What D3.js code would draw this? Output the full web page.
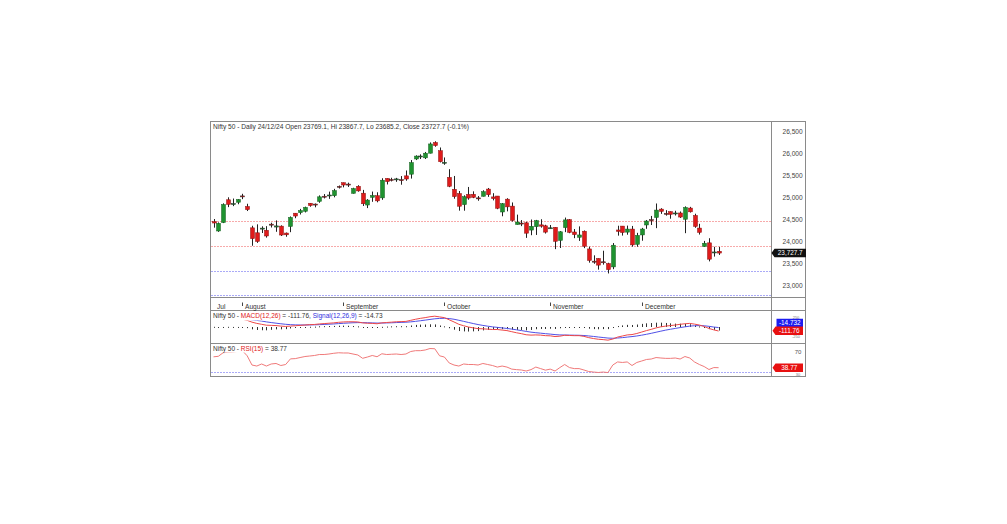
<!DOCTYPE html>
<html><head><meta charset="utf-8">
<script src="https://cdn.jsdelivr.net/npm/d3@7/dist/d3.min.js"></script>
<style>body{margin:0;background:#fff}svg{display:block}text{font-family:"Liberation Sans",Arial,sans-serif}</style>
</head><body><svg id="c" width="1007" height="524"></svg>
<script>
// ---------- DATA ----------
const opens  = [24444,24231,24424,24943,24840,24887,25031,24790,24303,24190,24290,24248,24387,24321,24342,24184,24334,24637,24649,24681,24864,24845,24906,25024,25031,25035,25249,25333,25301,25089,25251,25093,24823,24999,25035,24986,25430,25406,25417,25402,25488,25526,25873,25921,25899,26005,26249,26062,25789,25453,25182,25085,24832,25066,25068,24986,25023,25187,25008,25028,24664,24957,24798,24379,24412,24418,24252,24328,24371,24349,24302,24316,24016,24308,24490,24208,24088,24226,23822,23543,23605,23529,23488,23412,24254,24343,24205,24275,23927,24141,24368,24489,24539,24730,24633,24673,24621,24642,24499,24754,24585,24298,23878,23961,23738,23769.1];
const highs  = [24504,24427,24862,24999,24971,24957,25079,24852,24350,24383,24338,24341,24420,24473,24360,24196,24563,24638,24735,24787,24868,24858,25043,25073,25129,25192,25269,25334,25333,25217,25275,25168,24958,25130,25114,25434,25431,25445,25442,25483,25611,25849,25957,25979,26033,26251,26277,26135,25908,25640,25486,25143,25045,25235,25135,25028,25160,25212,25093,25029,24869,24978,24882,24604,24480,24441,24493,24484,24499,24373,24368,24316,24229,24537,24503,24276,24336,24243,23874,23676,23606,23781,23507,23956,24351,24343,24354,24346,24189,24302,24482,24574,24858,24751,24706,24678,24692,24676,24793,24781,24625,24395,24005,24066,23870,23867.7];
const lows   = [24307,24211,24411,24775,24798,24841,24957,24686,23894,23960,24185,24080,24311,24213,24117,24100,24204,24522,24607,24654,24784,24771,24874,24973,24964,24999,25199,25226,25235,25084,25127,24801,24753,24897,24885,24942,25292,25361,25352,25286,25377,25426,25848,25872,25872,25999,26152,25794,25740,25230,24967,24695,24694,24944,24980,24920,25018,25009,24929,24728,24567,24679,24446,24378,24342,24074,24135,24141,24307,24173,24281,23817,23843,24205,24180,24067,24005,23840,23509,23484,23350,23464,23263,23360,24125,24126,24146,23874,23873,24009,24281,24367,24296,24621,24581,24511,24584,24528,24181,24651,24304,24150,23870,23538,23647,23685.2];
const closes = [24413,24406,24835,24837,24857,24951,25011,24718,24056,23993,24297,24117,24368,24347,24139,24144,24541,24572,24698,24770,24811,24823,25010,25017,25052,25152,25235,25279,25280,25199,25145,24852,24936,25041,24918,25389,25357,25384,25419,25378,25416,25791,25939,25941,26005,26216,26179,25811,25797,25251,25015,24796,25013,24982,24998,24964,25128,25058,24971,24750,24854,24781,24472,24436,24400,24181,24339,24467,24341,24205,24304,23996,24213,24484,24199,24148,24141,23884,23559,23533,23453,23518,23350,23907,24222,24195,24275,23914,24131,24276,24458,24468,24708,24678,24620,24610,24642,24549,24768,24668,24336,24199,23952,23588,23753,23727.7];

const monthLabels = ["Jul","August","September","October","November","December"];
const monthStart  = [0,6,27,48,70,89];
const priceTicks  = [23000,23500,24000,24500,25000,25500,26000,26500];
const redLevels   = [24466,23889];
const blueLevels  = [23326,22771];

const macd   = [230,215,225,230,228,228,215,185,135,100,75,50,45,40,25,15,25,35,45,55,65,70,85,95,105,115,130,140,145,145,140,115,105,100,90,115,125,135,145,150,155,185,215,240,260,285,300,280,260,200,140,75,35,0,-25,-45,-50,-60,-70,-70,-85,-100,-130,-160,-185,-215,-225,-220,-225,-240,-245,-265,-255,-230,-235,-240,-240,-260,-295,-320,-340,-350,-365,-335,-280,-250,-220,-210,-180,-140,-100,-65,-25,5,25,40,55,75,90,100,80,55,15,-40,-80,-111.76];
const signal = [225,224,224,225,226,226,224,216,200,183,165,142,123,106,90,75,65,59,56,56,58,60,65,71,78,85,94,103,111,118,122,121,118,114,109,110,113,117,123,128,133,143,157,174,191,210,228,238,242,234,215,187,157,126,96,68,44,23,4,-10,-25,-40,-58,-78,-99,-122,-143,-158,-171,-185,-197,-211,-220,-222,-225,-228,-230,-236,-248,-262,-278,-292,-307,-313,-306,-295,-280,-266,-249,-227,-202,-175,-145,-115,-87,-62,-39,-16,5,24,35,39,34,19,-1,-14.73];
const hist   = [5,-9,1,5,2,2,-9,-31,-65,-83,-90,-92,-78,-66,-65,-60,-40,-24,-11,-1,7,10,20,24,27,30,36,37,34,27,18,-6,-13,-14,-19,5,12,18,22,22,22,42,58,66,69,75,72,42,18,-34,-75,-112,-122,-126,-121,-113,-94,-83,-74,-60,-60,-60,-72,-82,-86,-93,-82,-62,-54,-55,-48,-54,-35,-8,-10,-12,-10,-24,-47,-58,-62,-58,-58,-22,26,45,60,56,69,87,102,110,120,120,112,102,94,91,85,76,45,16,-19,-59,-79,-97];
const macdTicks = [250,-250];

const rsi = [60,61,68,69,69.5,70.5,72,62,44,42,46,42,46,47,43,45,56,56.5,58.6,60.6,61.6,62.6,64.5,64.5,65.5,66.9,67.9,67.5,67.5,65.5,63.6,57.1,59.6,62.6,60.2,66,64.5,65,65.5,64.5,65.5,70.4,72,72,73.3,76.2,75.8,62,59.6,48,44,42,46,45,45,44,47,45,43,40,42,40,36,35,34.3,32.3,35,40,37,34,36,32.3,39,45,39,37,37,34.3,31.3,30.3,29.4,30.3,29.2,44,50,49,50,43,49,51.8,54.8,55.7,58.6,57.7,57,57,57.7,55.7,60.6,57.7,49.9,45,41,35.2,39,38.77];
const rsiTicks = [70,30];

// ---------- LAYOUT ----------
const svg = d3.select("#c");
const L = 210.5, R = 805.5, AX = 771.5;
const T = 121.5, P1 = 297.5, P2 = 310.5, P3 = 343.5, B = 376.5;
const n = closes.length;
const x = d3.scaleLinear().domain([0, n-1]).range([213.5, 718.6]);
const y = d3.scaleLinear().domain([22726, 26739]).range([297, 121]);
const ym = d3.scaleLinear().domain([-444, 472]).range([343, 310]);
const yr = d3.scaleLinear().domain([20.6, 87]).range([377, 343]);
const RED = "#df1b1b", GREEN = "#1f9330";

// frame
const g = svg.append("g");
g.append("rect").attr("x",L).attr("y",T).attr("width",R-L).attr("height",B-T).attr("fill","none").attr("stroke","#8a8a8a");
[P1,P2,P3].forEach(v=>g.append("line").attr("x1",L).attr("x2",R).attr("y1",v).attr("y2",v).attr("stroke","#8a8a8a"));
g.append("line").attr("x1",AX).attr("x2",AX).attr("y1",T).attr("y2",B).attr("stroke","#8a8a8a");

// level lines
redLevels.forEach(v=>g.append("line").attr("x1",L+1).attr("x2",AX).attr("y1",Math.round(y(v))+0.5).attr("y2",Math.round(y(v))+0.5)
  .attr("stroke","#ee5555").attr("stroke-dasharray","1,2"));
blueLevels.forEach(v=>g.append("line").attr("x1",L+1).attr("x2",AX).attr("y1",Math.round(y(v))+0.5).attr("y2",Math.round(y(v))+0.5)
  .attr("stroke","#5555ee").attr("stroke-dasharray","1,2"));

// candles
const idx = d3.range(n);
const cg = svg.append("g");
cg.selectAll("line.w").data(idx).join("line")
  .attr("x1",i=>Math.round(x(i))+0.5).attr("x2",i=>Math.round(x(i))+0.5)
  .attr("y1",i=>y(highs[i])).attr("y2",i=>y(lows[i]))
  .attr("stroke","#222").attr("stroke-width",1);
cg.selectAll("rect.b").data(idx).join("rect")
  .attr("x",i=>Math.round(x(i))-1.5).attr("width",4)
  .attr("y",i=>y(Math.max(opens[i],closes[i])))
  .attr("height",i=>Math.max(1,Math.abs(y(opens[i])-y(closes[i]))))
  .attr("fill",i=>closes[i]>=opens[i]?GREEN:RED)
  .attr("stroke",i=>Math.abs(y(opens[i])-y(closes[i]))<1.2?"#222":(closes[i]>=opens[i]?"#165f20":"#8a1010"))
  .attr("stroke-width",0.5);

// price axis
const ax = d3.axisRight(y).tickValues(priceTicks).tickSize(0).tickPadding(11).tickFormat(d3.format(","));
const axg = svg.append("g").attr("transform",`translate(${AX},0)`).call(ax);
axg.select(".domain").remove();
axg.selectAll("text").attr("font-size",6.6).attr("fill","#444").attr("font-family","Liberation Sans, Arial, sans-serif");

// title
svg.append("text").attr("x",213).attr("y",129).attr("font-size",6.6).attr("fill","#333")
  .text("Nifty 50 - Daily 24/12/24 Open 23769.1, Hi 23867.7, Lo 23685.2, Close 23727.7 (-0.1%)");

// month labels
monthLabels.forEach((m,k)=>{
  const xi = Math.round(x(monthStart[k]))+0.5;
  if(k>0) svg.append("line").attr("x1",xi).attr("x2",xi).attr("y1",302.5).attr("y2",306).attr("stroke","#444");
  svg.append("text").attr("x",xi+2.5).attr("y",309).attr("font-size",6.6).attr("fill","#333").text(m);
});

// tag helper
function tag(yc, label, fill, x0, x1, pointer){
  const h=8.5, p = pointer?3:0;
  const pts = [[x0+p,yc-h/2],[x1,yc-h/2],[x1,yc+h/2],[x0+p,yc+h/2],[x0,yc]];
  svg.append("polygon").attr("points",pts.map(d=>d.join(",")).join(" ")).attr("fill",fill);
  svg.append("text").attr("x",(x0+p+x1)/2).attr("y",yc+2.3).attr("text-anchor","middle")
    .attr("font-size",6.4).attr("fill","#fff").text(label);
}

// MACD panel
const mg = svg.append("g");
mg.selectAll("rect").data(idx).join("rect")
  .attr("x",i=>Math.round(x(i))).attr("width",1)
  .attr("y",i=>Math.min(ym(0),ym(hist[i])))
  .attr("height",i=>Math.max(1,Math.abs(ym(hist[i])-ym(0))))
  .attr("fill","#333");
mg.append("path").datum(idx).attr("fill","none").attr("stroke","#5050e6").attr("stroke-width",1)
  .attr("d",d3.line().x(i=>x(i)).y(i=>ym(signal[i])));
mg.append("path").datum(idx).attr("fill","none").attr("stroke","#ee4848").attr("stroke-width",1)
  .attr("d",d3.line().x(i=>x(i)).y(i=>ym(macd[i])));
const ml = svg.append("text").attr("x",213).attr("y",318).attr("font-size",6.5).attr("fill","#333");
ml.append("tspan").text("Nifty 50 - ");
ml.append("tspan").attr("fill","#e02020").text("MACD(12,26)");
ml.append("tspan").text(" = -111.76, ");
ml.append("tspan").attr("fill","#3030e0").text("Signal(12,26,9)");
ml.append("tspan").text(" = -14.73");
const mb = ml.node().getBBox();
svg.insert("rect", () => ml.node()).attr("x",mb.x-1).attr("y",mb.y).attr("width",mb.width+2).attr("height",mb.height+0.5).attr("fill","#fff");
macdTicks.forEach(v=>svg.append("text").attr("x",796).attr("y",ym(v)+1.5).attr("font-size",4).attr("fill","#777").attr("text-anchor","middle").text(v));
tag(323, "-14.732", "#1c1cf0", 776.5, 803, false);
tag(330.8, "-111.76", "#e81010", 772.5, 803, true);

// RSI panel
svg.append("line").attr("x1",L+1).attr("x2",AX).attr("y1",Math.round(yr(30))+0.5).attr("y2",Math.round(yr(30))+0.5)
  .attr("stroke","#5555ee").attr("stroke-dasharray","1,2");
svg.append("path").datum(idx).attr("fill","none").attr("stroke","#f07a7a").attr("stroke-width",1)
  .attr("d",d3.line().x(i=>x(i)).y(i=>yr(rsi[i])));
const rl = svg.append("text").attr("x",213).attr("y",350.5).attr("font-size",6.5).attr("fill","#333");
rl.append("tspan").text("Nifty 50 - ");
rl.append("tspan").attr("fill","#e02020").text("RSI(15)");
rl.append("tspan").text(" = 38.77");
const rb = rl.node().getBBox();
svg.insert("rect", () => rl.node()).attr("x",rb.x-1).attr("y",rb.y).attr("width",rb.width+2).attr("height",rb.height).attr("fill","#fff");
svg.append("text").attr("x",798).attr("y",yr(rsiTicks[0])+2.2).attr("font-size",6).attr("fill","#555").attr("text-anchor","middle").text(rsiTicks[0]);
svg.append("text").attr("x",798).attr("y",yr(rsiTicks[1])+4).attr("font-size",4).attr("fill","#777").attr("text-anchor","middle").text(rsiTicks[1]);
tag(yr(rsi[n-1]), "38.77", "#e81010", 772.5, 803, true);

// current price tag
tag(y(closes[n-1]), "23,727.7", "#111", 771.5, 806, true);
</script></body></html>
